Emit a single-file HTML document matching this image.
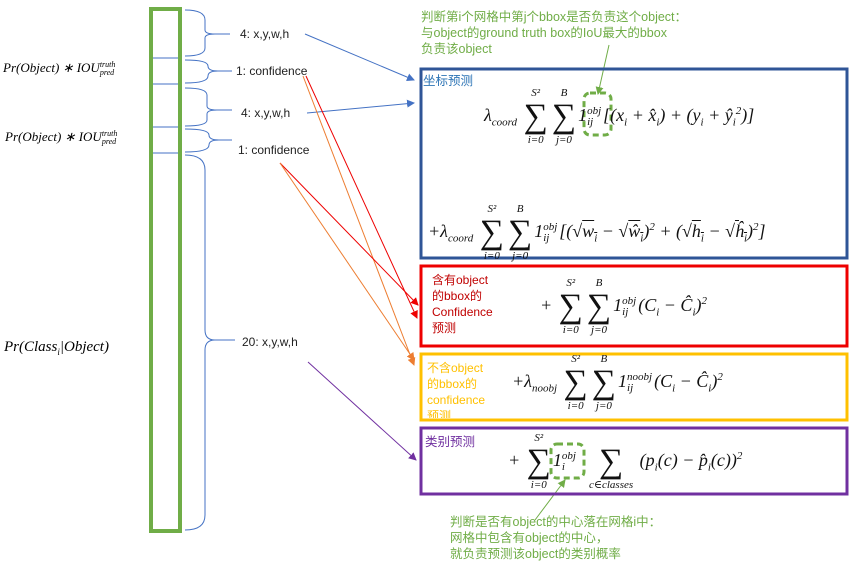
<!DOCTYPE html>
<html><head><meta charset="utf-8"><style>
body{margin:0;width:860px;height:565px;background:#fff;position:relative;overflow:hidden;font-family:"Liberation Sans","Noto Sans CJK SC",sans-serif}
.a{position:absolute;white-space:nowrap}
.m{font-family:"Liberation Serif","DejaVu Serif",serif;font-style:italic;color:#111;font-size:18px;line-height:56px}
.lbl{font-size:12px;color:#222}
.g{color:#70ad47;font-size:12.5px;line-height:16px}
.s{display:inline-flex;flex-direction:column;align-items:center;font-size:11px;line-height:11px;margin:0 2px;vertical-align:middle}
.s b{font-weight:normal;font-style:normal;font-size:34px;line-height:36px}
.ix{display:inline-flex;flex-direction:column;font-size:11px;line-height:11px;vertical-align:middle;margin-right:2px}
.m sub,.m sup{font-size:11px;line-height:0}
</style></head><body>
<svg class="a" style="left:0;top:0" width="860" height="565">
<defs>
<marker id="ab" markerWidth="8" markerHeight="8" refX="7" refY="4" orient="auto"><path d="M0,0L8,4L0,8z" fill="#4472c4"/></marker>
<marker id="ar" markerWidth="8" markerHeight="8" refX="7" refY="4" orient="auto"><path d="M0,0L8,4L0,8z" fill="#e00"/></marker>
<marker id="ao" markerWidth="8" markerHeight="8" refX="7" refY="4" orient="auto"><path d="M0,0L8,4L0,8z" fill="#ed7d31"/></marker>
<marker id="ap" markerWidth="8" markerHeight="8" refX="7" refY="4" orient="auto"><path d="M0,0L8,4L0,8z" fill="#7030a0"/></marker>
<marker id="ag" markerWidth="8" markerHeight="8" refX="7" refY="4" orient="auto"><path d="M0,0L8,4L0,8z" fill="#70ad47"/></marker>
</defs>
<g stroke="#4472c4" stroke-width="1" fill="none">
<line x1="151" y1="58" x2="182" y2="58"/><line x1="151" y1="84" x2="182" y2="84"/>
<line x1="151" y1="127" x2="182" y2="127"/><line x1="151" y1="153" x2="182" y2="153"/>
<path d="M185,10 Q205,10 205,20 L205,30 Q205,34 215,34 L230,34 M215,34 Q205,34 205,38 L205,48 Q205,56 185,56"/>
<path d="M185,60 Q208,60 208,66 Q208,71 218,71 L232,71 M218,71 Q208,71 208,76 Q208,83 185,83"/>
<path d="M185,88 Q207,88 207,95 L207,106 Q207,110 217,110 L232,110 M217,110 Q207,110 207,114 L207,120 Q207,126 185,126"/>
<path d="M185,129 Q209,129 209,135 Q209,140 219,140 L232,140 M219,140 Q209,140 209,145 Q209,152 185,152"/>
<path d="M185,155 Q205,155 205,170 L205,330 Q205,340 215,340 L235,340 M215,340 Q205,340 205,350 L205,515 Q205,530 185,530"/>
</g>
<rect x="151" y="9" width="29" height="522" fill="none" stroke="#70ad47" stroke-width="4"/>
<line x1="305" y1="34" x2="414" y2="80" stroke="#4472c4" marker-end="url(#ab)"/>
<line x1="307" y1="113" x2="414" y2="103" stroke="#4472c4" marker-end="url(#ab)"/>
<line x1="306" y1="76" x2="417" y2="318" stroke="#e00" marker-end="url(#ar)"/>
<line x1="303" y1="76" x2="414" y2="365" stroke="#ed7d31" marker-end="url(#ao)"/>
<line x1="280" y1="163" x2="418" y2="305" stroke="#e00" marker-end="url(#ar)"/>
<line x1="280" y1="163" x2="414" y2="360" stroke="#ed7d31" marker-end="url(#ao)"/>
<line x1="308" y1="362" x2="416" y2="460" stroke="#7030a0" marker-end="url(#ap)"/>
<line x1="609" y1="45" x2="598" y2="94" stroke="#70ad47" marker-end="url(#ag)"/>
<line x1="535" y1="520" x2="565" y2="480" stroke="#70ad47" marker-end="url(#ag)"/>
<rect x="421" y="69" width="426" height="189" fill="none" stroke="#2f5597" stroke-width="3"/>
<rect x="421" y="266" width="426" height="80" fill="none" stroke="#e00" stroke-width="3"/>
<rect x="421" y="354" width="426" height="66" fill="none" stroke="#ffc000" stroke-width="3"/>
<rect x="421" y="428" width="426" height="66" fill="none" stroke="#7030a0" stroke-width="3"/>
<rect x="584" y="93" width="27" height="42" rx="6" fill="none" stroke="#70ad47" stroke-width="3" stroke-dasharray="6,4"/>
<rect x="551" y="444" width="33" height="34" rx="6" fill="none" stroke="#70ad47" stroke-width="3" stroke-dasharray="6,4"/>
</svg>
<div class="a" style="left:3px;top:60px;font-family:'Liberation Serif',serif;font-style:italic;font-size:13px">Pr(Object) ∗ IOU<span style="display:inline-block;vertical-align:middle;font-size:8px;line-height:8px">truth<br>pred</span></div>
<div class="a" style="left:5px;top:129px;font-family:'Liberation Serif',serif;font-style:italic;font-size:13px">Pr(Object) ∗ IOU<span style="display:inline-block;vertical-align:middle;font-size:8px;line-height:8px">truth<br>pred</span></div>
<div class="a" style="left:4px;top:339px;font-family:'Liberation Serif',serif;font-style:italic;font-size:15px">Pr(Class<sub style="font-size:9px">i</sub>|Object)</div>
<div class="a lbl" style="left:240px;top:27px">4: x,y,w,h</div>
<div class="a lbl" style="left:236px;top:64px">1: confidence</div>
<div class="a lbl" style="left:241px;top:106px">4: x,y,w,h</div>
<div class="a lbl" style="left:238px;top:143px">1: confidence</div>
<div class="a lbl" style="left:242px;top:335px">20: x,y,w,h</div>
<div class="a g" style="left:421px;top:9px">判断第i个网格中第j个bbox是否负责这个object：<br>与object的ground truth box的IoU最大的bbox<br>负责该object</div>
<div class="a" style="left:423px;top:70px;font-size:12.5px;color:#2e75b6">坐标预测</div>
<div class="a m" style="left:484px;top:87px">λ<sub>coord</sub> <span class="s"><span>S²</span><b>∑</b><span>i=0</span></span><span class="s"><span>B</span><b>∑</b><span>j=0</span></span>1<span class="ix">obj<br>ij</span>[(x<sub>i</sub> + x̂<sub>i</sub>) + (y<sub>i</sub> + ŷ<sub>i</sub><sup>2</sup>)]</div>
<div class="a m" style="left:428px;top:203px">+λ<sub>coord</sub> <span class="s"><span>S²</span><b>∑</b><span>i=0</span></span><span class="s"><span>B</span><b>∑</b><span>j=0</span></span>1<span class="ix">obj<br>ij</span>[(√<span style="text-decoration:overline">w<sub>i</sub></span> − √<span style="text-decoration:overline">ŵ<sub>i</sub></span>)<sup>2</sup> + (√<span style="text-decoration:overline">h<sub>i</sub></span> − √<span style="text-decoration:overline">ĥ<sub>i</sub></span>)<sup>2</sup>]</div>
<div class="a" style="left:432px;top:272px;font-size:12px;line-height:16px;color:#c00000">含有object<br>的bbox的<br>Confidence<br>预测</div>
<div class="a m" style="left:540px;top:277px">+ <span class="s"><span>S²</span><b>∑</b><span>i=0</span></span><span class="s"><span>B</span><b>∑</b><span>j=0</span></span>1<span class="ix">obj<br>ij</span>(C<sub>i</sub> − Ĉ<sub>i</sub>)<sup>2</sup></div>
<div class="a" style="left:427px;top:360px;font-size:12px;line-height:16px;color:#ffc000;height:58px;overflow:hidden">不含object<br>的bbox的<br>confidence<br>预测</div>
<div class="a m" style="left:512px;top:353px">+λ<sub>noobj</sub> <span class="s"><span>S²</span><b>∑</b><span>i=0</span></span><span class="s"><span>B</span><b>∑</b><span>j=0</span></span>1<span class="ix">noobj<br>ij</span>(C<sub>i</sub> − Ĉ<sub>i</sub>)<sup>2</sup></div>
<div class="a" style="left:425px;top:431px;font-size:12.5px;color:#7030a0">类别预测</div>
<div class="a m" style="left:508px;top:432px">+ <span class="s"><span>S²</span><b>∑</b><span>i=0</span></span>1<span class="ix">obj<br>i</span>&nbsp;&nbsp;<span class="s"><span>&nbsp;</span><b>∑</b><span>c∈classes</span></span>&nbsp;(p<sub>i</sub>(c) − p̂<sub>i</sub>(c))<sup>2</sup></div>
<div class="a g" style="left:450px;top:514px">判断是否有object的中心落在网格i中：<br>网格中包含有object的中心，<br>就负责预测该object的类别概率</div>
</body></html>
